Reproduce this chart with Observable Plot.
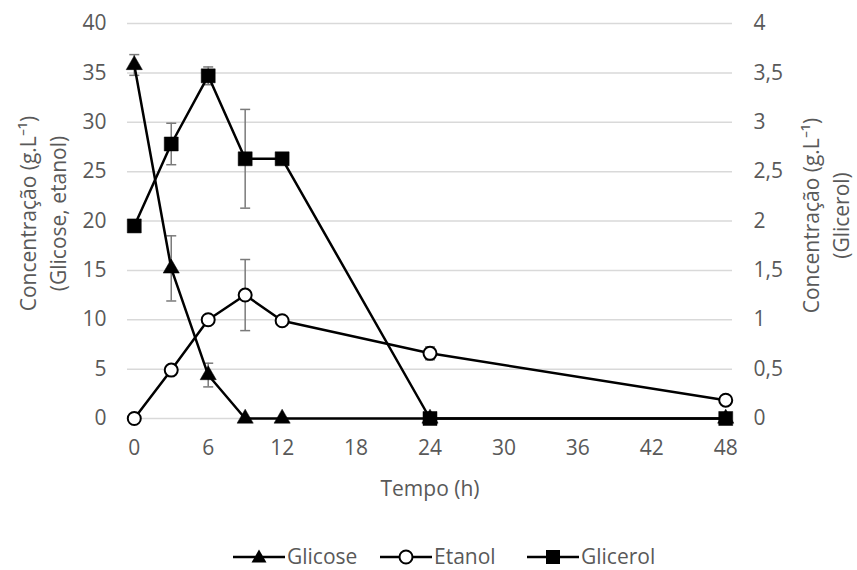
<!DOCTYPE html>
<html>
<head>
<meta charset="utf-8">
<script src="https://cdn.jsdelivr.net/npm/d3@7"></script>
<script src="https://cdn.jsdelivr.net/npm/@observablehq/plot@0.6"></script>
<style>
  html, body { margin: 0; padding: 0; background: white; }
  #wrap { width: 857px; position: relative; font-family: "Open Sans", sans-serif; color: #595959; }
  #legend { position: relative; width: 857px; height: 50px; font-size: 21px; }
  .item { position: absolute; top: 22px; height: 28px; display: flex; align-items: center; }
  .item svg { display: block; }
  .item span { margin-left: 2px; line-height: 28px; }
</style>
</head>
<body>
<div id="wrap"></div>
<script>
// ---- data ----
const tempo = [0, 3, 6, 9, 12, 24, 48];
const glicose = [35.8, 15.2, 4.4, 0, 0, 0, 0];
const glicoseErr = [1.05, 3.3, 1.2, 0, 0, 0, 0];
const etanol = [0, 4.9, 10.0, 12.5, 9.9, 6.6, 1.85];
const etanolErr = [0, 0, 0, 3.6, 0, 0.65, 0];
const glicerol = [1.95, 2.78, 3.47, 2.63, 2.63, 0, 0];
const glicerolErr = [0, 0.21, 0.09, 0.5, 0.05, 0, 0];
const xTicks = [0, 6, 12, 18, 24, 30, 36, 42, 48];
const yLeftTicks = [0, 5, 10, 15, 20, 25, 30, 35, 40];
const seriesNames = ["Glicose", "Etanol", "Glicerol"];
const leftTitle = "Concentração (g.L\u207B\u00B9)\n(Glicose, etanol)";
const rightTitle = "Concentração (g.L\u207B\u00B9)\n(Glicerol)";
const xTitle = "Tempo (h)";

// glicerol plotted on left scale: right axis = left / 10
const ratio = 10;

// ---- build tables ----
const rows = [];
const errs = [];
tempo.forEach((t, i) => {
  rows.push({t, v: glicose[i], s: "Glicose"});
  rows.push({t, v: etanol[i], s: "Etanol"});
  rows.push({t, v: glicerol[i] * ratio, s: "Glicerol"});
  if (glicoseErr[i] > 0) errs.push({t, lo: glicose[i] - glicoseErr[i], hi: glicose[i] + glicoseErr[i]});
  if (etanolErr[i] > 0) errs.push({t, lo: etanol[i] - etanolErr[i], hi: etanol[i] + etanolErr[i]});
  if (glicerolErr[i] > 0) errs.push({t, lo: (glicerol[i] - glicerolErr[i]) * ratio, hi: (glicerol[i] + glicerolErr[i]) * ratio});
});
const caps = errs.flatMap(d => [{t: d.t, v: d.lo}, {t: d.t, v: d.hi}]);

const capSymbol = {
  draw(context, size) {
    const h = Math.sqrt(size) / 2;
    context.moveTo(-h, 0);
    context.lineTo(h, 0);
  }
};

const fmtComma = d => String(d / ratio).replace(".", ",");

const chart = Plot.plot({
  width: 857,
  height: 520,
  marginLeft: 127,
  marginRight: 125,
  marginTop: 23,
  marginBottom: 102,
  x: {domain: [-0.55, 48.55]},
  y: {domain: [0, 40]},
  style: {fontFamily: "Open Sans, sans-serif", fontSize: "21px", color: "#595959", background: "white"},
  marks: [
    Plot.ruleY(yLeftTicks, {stroke: "#d9d9d9", strokeWidth: 1.5}),
    Plot.axisY({anchor: "left", ticks: yLeftTicks, tickSize: 0, tickPadding: 21, label: null, fontSize: 21}),
    Plot.axisY({anchor: "right", ticks: yLeftTicks, tickSize: 0, tickPadding: 21, label: null, tickFormat: fmtComma, fontSize: 21}),
    Plot.axisX({ticks: xTicks, tickSize: 0, tickPadding: 22, label: null, fontSize: 21}),
    Plot.ruleX(errs, {x: "t", y1: "lo", y2: "hi", stroke: "#7a7a7a", strokeWidth: 1.5}),
    Plot.dot(caps, {x: "t", y: "v", symbol: capSymbol, r: 5.64, fill: "none", stroke: "#7a7a7a", strokeWidth: 1.5}),
    Plot.line(rows, {x: "t", y: "v", z: "s", stroke: "black", strokeWidth: 2.5}),
    Plot.dot(rows.filter(d => d.s === "Glicose"), {x: "t", y: "v", symbol: "triangle", r: 6, fill: "black", stroke: "black", strokeWidth: 0.5}),
    Plot.dot(rows.filter(d => d.s === "Etanol"), {x: "t", y: "v", symbol: "circle", r: 6.5, fill: "white", stroke: "black", strokeWidth: 2}),
    Plot.dot(rows.filter(d => d.s === "Glicerol"), {x: "t", y: "v", symbol: "square", r: 7.9, fill: "black", stroke: "black", strokeWidth: 0.5}),
    Plot.text([leftTitle], {frameAnchor: "middle", textAnchor: "middle", lineAnchor: "middle", text: d => d, rotate: -90, dx: -389, dy: -7.5, lineHeight: 1.45, fill: "#595959", fontSize: 21}),
    Plot.text([rightTitle], {frameAnchor: "middle", textAnchor: "middle", lineAnchor: "middle", text: d => d, rotate: -90, dx: 394, dy: -5.5, lineHeight: 1.45, fill: "#595959", fontSize: 21}),
    Plot.text([xTitle], {frameAnchor: "bottom", lineAnchor: "middle", text: d => d, dy: 71, fill: "#595959", fontSize: 21})
  ]
});

const wrap = document.getElementById("wrap");
wrap.appendChild(chart);

// ---- legend ----
const legend = document.createElement("div");
legend.id = "legend";
const legendPos = [{left: 233, sym: "tri"}, {left: 380, sym: "circ"}, {left: 527, sym: "sq"}];
seriesNames.forEach((name, i) => {
  const p = legendPos[i];
  const item = document.createElement("div");
  item.className = "item";
  item.style.left = p.left + "px";
  let marker = "";
  if (p.sym === "tri") marker = '<path d="M26,7.5 L33.5,20.5 L18.5,20.5 Z" fill="black"/>';
  if (p.sym === "circ") marker = '<circle cx="26" cy="15" r="6.5" fill="white" stroke="black" stroke-width="2"/>';
  if (p.sym === "sq") marker = '<rect x="19" y="8" width="14" height="14" fill="black"/>';
  item.innerHTML = '<svg width="52" height="28"><line x1="0" x2="52" y1="15" y2="15" stroke="black" stroke-width="2.5"/>' + marker + '</svg><span>' + name + '</span>';
  legend.appendChild(item);
});
wrap.appendChild(legend);
</script>
</body>
</html>
